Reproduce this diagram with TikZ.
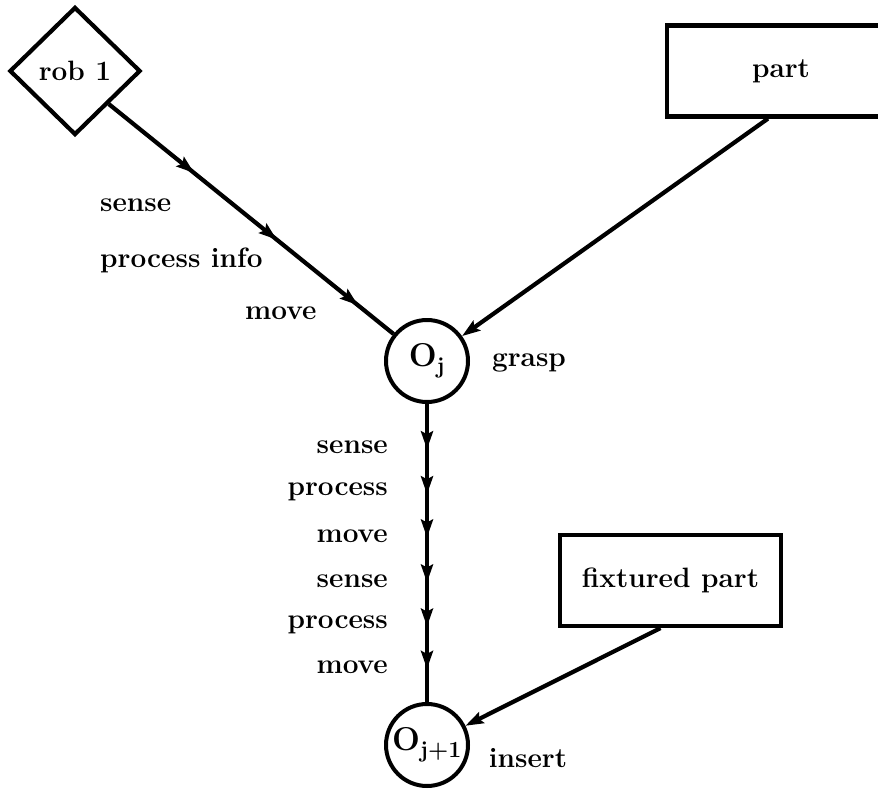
\documentclass[tikz,border=0pt]{standalone}
\usetikzlibrary{shapes.geometric,arrows.meta,decorations.markings}
\begin{document}
\begin{tikzpicture}[x=1pt,y=-1pt,
  every node/.style={font=\fontsize{28}{33}\selectfont\bfseries},
  conn/.style={line width=4.2pt},
  boxnode/.style={draw,line width=4.2pt,rectangle,inner sep=0pt},
  opnode/.style={draw,line width=4pt,circle,minimum size=82pt,inner sep=0pt,font=\fontsize{33}{36}\selectfont\bfseries},
  lbl/.style={inner sep=0pt},
]
\useasboundingbox (0,0) rectangle (878,792);
\clip (0,0) rectangle (878,792);
\def\mytip{\arrow{Stealth[length=18pt,width=12pt,inset=3pt]}}
% nodes
\node[draw,diamond,line width=4.2pt,aspect=1,minimum width=131pt,minimum height=128pt,inner sep=0pt] (rob) at (75,71) {rob 1};
\node[boxnode,minimum width=228pt,minimum height=91pt] (part) at (781,71) {part};
\node[boxnode,minimum width=221pt,minimum height=91pt] (fix) at (670.5,580.5) {fixtured part};
\node[opnode] (oj) at (427,361) {O\textsubscript{j}};
\node[opnode] (oj1) at (427,745) {O\textsubscript{j+1}};
% labels
\node[lbl,anchor=west] (l1) at (100,205) {sense};
\node[lbl,anchor=west] (l2) at (100,260) {process info};
\node[lbl,anchor=west] (l3) at (245,313) {move};
\node[lbl] (grasp) at (529,363) {grasp};
\node[lbl,anchor=east] (v1) at (388,447) {sense};
\node[lbl,anchor=east] (v2) at (388,492) {process};
\node[lbl,anchor=east] (v3) at (388,536) {move};
\node[lbl,anchor=east] (v4) at (388,581) {sense};
\node[lbl,anchor=east] (v5) at (388,625) {process};
\node[lbl,anchor=east] (v6) at (388,667) {move};
\node[lbl] (insert) at (528,758) {insert};
% connectors
\draw[conn,postaction={decorate},decoration={markings,
  mark=at position 0.30 with {\mytip},
  mark=at position 0.59 with {\mytip},
  mark=at position 0.875 with {\mytip}}] (rob.south east) -- (oj);
\draw[conn,-{Stealth[length=18pt,width=12pt,inset=3pt]}] ([xshift=-13pt]part.south) -- (oj);
\draw[conn,postaction={decorate},decoration={markings,
  mark=at position 0.152 with {\mytip},
  mark=at position 0.303 with {\mytip},
  mark=at position 0.448 with {\mytip},
  mark=at position 0.599 with {\mytip},
  mark=at position 0.747 with {\mytip},
  mark=at position 0.889 with {\mytip}}] (oj) -- (oj1);
\draw[conn,-{Stealth[length=18pt,width=12pt,inset=3pt]}] ([xshift=-10pt]fix.south) -- (oj1);
\end{tikzpicture}
\end{document}
